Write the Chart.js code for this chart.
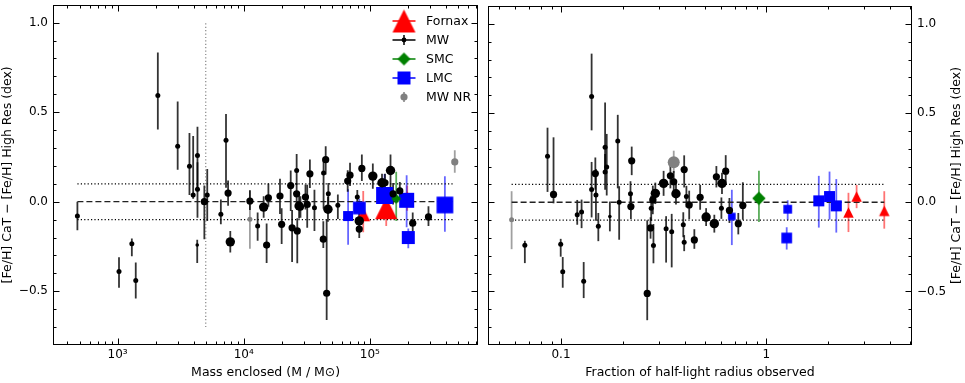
<!DOCTYPE html>
<html><head><meta charset="utf-8">
<script src="https://cdn.jsdelivr.net/npm/chart.js@4.4.1/dist/chart.umd.min.js"></script>
<style>
html,body{margin:0;padding:0;background:#fff;}
#wrap{position:relative;width:965px;height:383px;overflow:hidden;background:#fff;}
canvas{position:absolute;top:0;}
#cL{left:0;} #cR{left:482px;}
</style></head><body>
<div id="wrap"><canvas id="cL" width="483" height="383"></canvas><canvas id="cR" width="483" height="383"></canvas></div>
<script>
// ================= DATA =================
// y = [Fe/H] CaT - [Fe/H] High Res (dex); errors given as (minus, plus)
// ---- Left panel: mass enclosed (M / Msun) ----
const mwMass   = [480,1026,1297,1393,2085,2995,3715,3975,4300,4300,4875,5140,4280,6590,7240,7520,7830,11200,12900,14400,15200,15700,19400,20000,23600,24200,26300,26300,26600,27500,28200,30900,31900,33500,36400,42800,43000,44700,45500,46600,46900,55800,66800,69700,79600,82500,82500,86500,105700,125000,132000,146000,153000,173000,219000,292000];
const mwDiffL  = [-0.08,-0.39,-0.235,-0.44,0.593,0.309,0.198,0.037,0.258,0.07,0.0,0.037,-0.242,-0.07,0.343,0.048,-0.224,0.004,-0.135,-0.03,-0.242,0.022,0.032,-0.126,0.09,-0.146,0.174,0.044,-0.163,-0.024,-0.03,0.026,-0.015,0.156,-0.033,-0.209,0.161,0.235,-0.511,-0.042,0.044,-0.02,0.115,0.148,0.026,-0.107,-0.153,0.186,0.143,0.106,0.106,0.174,0.044,0.06,-0.12,-0.085];
const mwErrLoL = [0.08,0.09,0.07,0.10,0.19,0.13,0.16,0.02,0.2,0.16,0.21,0.145,0.1,0.056,0.265,0.07,0.06,0.05,0.083,0.06,0.1,0.05,0.1,0.11,0.142,0.19,0.08,0.06,0.18,0.07,0.06,0.07,0.13,0.08,0.13,0.05,0.2,0.083,0.15,0.07,0.06,0.076,0.06,0.06,0.04,0.05,0.05,0.071,0.07,0.05,0.05,0.1,0.06,0.05,0.07,0.05];
const mwErrHiL = [0.08,0.08,0.03,0.10,0.24,0.25,0.185,0.33,0.16,0.15,0.09,0.145,0.03,0.083,0.147,0.07,0.06,0.06,0.075,0.06,0.12,0.08,0.096,0.09,0.084,0.1,0.093,0.06,0.07,0.07,0.06,0.07,0.11,0.08,0.1,0.1,0.08,0.075,0.41,0.07,0.06,0.06,0.06,0.07,0.04,0.05,0.05,0.077,0.07,0.05,0.05,0.09,0.06,0.05,0.06,0.06];
const mwClassL = [1,1,1,1,1,1,1,1,1,1,2,1,0,1,1,2,3,2,1,3,2,2,2,2,2,2,1,2,2,3,2,2,2,2,1,2,1,2,2,3,1,1,2,2,1,3,2,2,3,3,2,3,2,2,2,2];

const mwnrMass   = [11200,472000];
const mwnrDiffL  = [-0.098,0.222];
const mwnrErrLoL = [0.165,0.06];
const mwnrErrHiL = [0.16,0.065];
const mwnrClassL = [1,2];

const fornaxMass   = [88700,135000,198000];
const fornaxDiffL  = [-0.07,-0.036,0.02];
const fornaxErrLoL = [0.1,0.1,0.07];
const fornaxErrHiL = [0.13,0.05,0.07];

const lmcMass   = [67300,82600,131000,196000,202000,394000];
const lmcDiffL  = [-0.08,-0.035,0.035,0.008,-0.2,-0.018];
const lmcErrLoL = [0.16,0.05,0.12,0.15,0.06,0.15];
const lmcErrHiL = [0.15,0.05,0.12,0.14,0.05,0.16];

const smcMass   = [162000];
const smcDiffL  = [0.017];
const smcErrLoL = [0.125];
const smcErrHiL = [0.15];

// ---- Right panel: fraction of half-light radius observed ----
const mwFrac   = [0.0667,0.086,0.092,0.0997,0.102,0.12,0.126,0.129,0.141,0.141,0.147,0.148,0.152,0.164,0.164,0.167,0.173,0.189,0.192,0.218,0.219,0.221,0.263,0.273,0.282,0.275,0.28,0.288,0.316,0.325,0.341,0.346,0.354,0.363,0.394,0.398,0.398,0.408,0.421,0.446,0.476,0.509,0.558,0.571,0.604,0.608,0.634,0.661,0.73,0.768];
const mwDiffR  = [-0.241,0.258,0.044,-0.235,-0.389,-0.07,-0.055,-0.442,0.593,0.072,0.161,0.041,-0.135,0.309,0.17,0.198,-0.08,0.343,0.0,0.048,-0.024,0.232,-0.511,-0.144,-0.242,-0.033,0.013,0.05,0.106,-0.148,0.148,-0.165,0.115,0.048,-0.126,0.183,-0.224,0.032,-0.015,-0.211,0.028,-0.083,-0.12,0.143,-0.033,0.106,0.174,-0.046,-0.12,-0.018];
const mwErrLoR = [0.10,0.2,0.05,0.07,0.09,0.056,0.09,0.095,0.19,0.157,0.09,0.145,0.083,0.13,0.1,0.16,0.083,0.265,0.21,0.07,0.07,0.08,0.15,0.06,0.1,0.07,0.08,0.06,0.07,0.19,0.07,0.2,0.06,0.06,0.07,0.1,0.05,0.06,0.08,0.05,0.07,0.05,0.05,0.06,0.06,0.06,0.07,0.07,0.06,0.08];
const mwErrHiR = [0.025,0.16,0.32,0.03,0.082,0.083,0.07,0.107,0.24,0.154,0.09,0.145,0.075,0.25,0.1,0.185,0.084,0.147,0.09,0.07,0.07,0.08,0.41,0.06,0.12,0.07,0.08,0.06,0.07,0.07,0.07,0.1,0.06,0.06,0.07,0.08,0.04,0.06,0.08,0.06,0.07,0.05,0.05,0.06,0.06,0.06,0.09,0.07,0.06,0.13];
const mwClassR = [1,1,2,1,1,1,1,1,1,1,2,1,1,1,1,1,0,1,1,1,2,2,2,2,1,1,2,3,3,1,2,1,2,3,1,2,1,1,2,2,2,3,3,2,1,3,2,2,2,2];

const mwnrFrac   = [0.0575,0.354];
const mwnrDiffR  = [-0.098,0.224];
const mwnrErrLoR = [0.165,0.06];
const mwnrErrHiR = [0.16,0.065];
const mwnrClassR = [1,4];

const fornaxFrac   = [2.51,2.75,3.75];
const fornaxDiffR  = [-0.057,0.032,-0.048];
const fornaxErrLoR = [0.11,0.065,0.1];
const fornaxErrHiR = [0.11,0.065,0.11];

const lmcFrac   = [0.679,1.256,1.27,1.8,2.03,2.19];
const lmcDiffR  = [-0.08,-0.2,-0.039,0.008,0.032,-0.02];
const lmcErrLoR = [0.16,0.065,0.06,0.15,0.13,0.15];
const lmcErrHiR = [0.15,0.06,0.05,0.14,0.14,0.15];

const smcFrac   = [0.92];
const smcDiffR  = [0.022];
const smcErrLoR = [0.133];
const smcErrHiR = [0.154];

// reference levels and cut
const zeroLevel = 0.0;
const scatterBand = [-0.1, 0.1];
const massCut = 5000;
const massCutSpan = [-0.7, 1.0];

const legendLabels = ['Fornax','MW','SMC','LMC','MW NR'];
const yTitle = '[Fe/H] CaT \u2212 [Fe/H] High Res (dex)';
const xTitleL = 'Mass enclosed (M / M\u2299)';
const xTitleR = 'Fraction of half-light radius observed';

// ================= STYLE =================
const FONT = 'DejaVu Sans';
const RADII = [1.8, 2.5, 3.6, 4.7, 6.0];
const RED = '#ff0000', BLUE = '#0000ff', GREEN = '#008000', GRAY = '#808080', BLACK = '#000000';
const fornaxSizeL = [14, 22, 13], fornaxSizeR = [10.5, 10.5, 10.5];
const lmcSizeL = [10, 12.7, 17, 15, 13, 16.7], lmcSizeR = [7.5, 10.7, 8.7, 11, 11, 11];
const smcSizeL = [10], smcSizeR = [13.4];

Chart.defaults.font.family = FONT;
Chart.defaults.color = '#000';

function markerImage(shape, size, color){
  const s = Math.ceil(size) + 2;
  const c = document.createElement('canvas'); c.width = s; c.height = s;
  const g = c.getContext('2d'); g.fillStyle = color;
  const m = s/2, h = size/2;
  g.beginPath();
  if (shape === 'tri'){ g.moveTo(m, m-h); g.lineTo(m+h, m+h); g.lineTo(m-h, m+h); }
  else if (shape === 'sq'){ g.rect(m-h, m-h, size, size); }
  else { g.moveTo(m, m-h); g.lineTo(m+h, m); g.lineTo(m, m+h); g.lineTo(m-h, m); }
  g.closePath(); g.fill();
  return c;
}
const pts = (xs, ys) => xs.map((x, i) => ({x, y: ys[i]}));

function circleSet(label, xs, ys, lo, hi, cls, color, errColor, order){
  return {label, data: pts(xs, ys), errLo: lo, errHi: hi, errColor, order,
    pointStyle: 'circle', pointRadius: cls.map(c => RADII[c]), backgroundColor: color,
    pointBackgroundColor: color, pointBorderWidth: 0, borderWidth: 0};
}
function shapeSet(label, xs, ys, lo, hi, shape, sizes, color, errColor, order){
  return {label, data: pts(xs, ys), errLo: lo, errHi: hi, errColor, order,
    pointStyle: sizes.map(s => markerImage(shape, s, color)), pointRadius: 4,
    backgroundColor: color, pointBorderWidth: 0, borderWidth: 0};
}
function lineSet(x0, x1, y0, y1, color, dash, width){
  return {type: 'line', data: [{x: x0, y: y0}, {x: x1, y: y1}], borderColor: color, borderDash: dash,
    borderWidth: width, pointRadius: 0, fill: false, order: 20, tension: 0};
}
function refLines(xs){
  const lo = Math.min(...xs), hi = Math.max(...xs);
  return [
    lineSet(lo, hi, zeroLevel, zeroLevel, '#222', [6, 3], 1.3),
    lineSet(lo, hi, scatterBand[0], scatterBand[0], '#000', [1.2, 2.2], 1.2),
    lineSet(lo, hi, scatterBand[1], scatterBand[1], '#000', [1.2, 2.2], 1.2)
  ];
}

// ================= PLUGINS =================
const errorBars = {
  id: 'errorBars',
  beforeDatasetsDraw(chart){
    const {ctx, chartArea: a, scales: {x, y}} = chart;
    ctx.save();
    ctx.beginPath(); ctx.rect(a.left, a.top, a.right - a.left, a.bottom - a.top); ctx.clip();
    const sets = chart.data.datasets.map((d, i) => [d, i]).filter(([d]) => d.errLo)
      .sort((p, q) => q[0].order - p[0].order);
    sets.forEach(([ds]) => {
      ctx.strokeStyle = ds.errColor; ctx.lineWidth = 1.8;
      ds.data.forEach((p, i) => {
        const px = x.getPixelForValue(p.x);
        ctx.beginPath();
        ctx.moveTo(px, y.getPixelForValue(p.y - ds.errLo[i]));
        ctx.lineTo(px, y.getPixelForValue(p.y + ds.errHi[i]));
        ctx.stroke();
      });
    });
    ctx.restore();
  }
};
const frame = {
  id: 'frame',
  afterDraw(chart, args, opts){
    const {ctx, chartArea: a, scales: {x, y}} = chart;
    ctx.save();
    ctx.strokeStyle = '#000'; ctx.lineWidth = 1;
    const L = Math.round(a.left) + 0.5, R = Math.round(a.right) - 0.5, T = Math.round(a.top) + 0.5, B = Math.round(a.bottom) - 0.5;
    ctx.strokeRect(L, T, R - L, B - T);
    ctx.beginPath();
    const e0 = Math.floor(Math.log10(x.min)), e1 = Math.ceil(Math.log10(x.max));
    for (let e = e0; e <= e1; e++) for (let d = 1; d <= 9; d++){
      const v = d * Math.pow(10, e);
      if (v <= x.min || v >= x.max) continue;
      const px = Math.round(x.getPixelForValue(v)) + 0.5;
      const len = d === 1 ? 6 : 3;
      ctx.moveTo(px, B); ctx.lineTo(px, B - len);
      ctx.moveTo(px, T); ctx.lineTo(px, T + len);
    }
    for (let i = Math.ceil(y.min * 10); i <= Math.floor(y.max * 10); i++){
      const v = i / 10;
      if (v <= y.min + 1e-9 || v >= y.max - 1e-9) continue;
      const py = Math.round(y.getPixelForValue(v)) + 0.5;
      const len = i % 5 === 0 ? 6 : 3;
      ctx.moveTo(L, py); ctx.lineTo(L + len, py);
      ctx.moveTo(R, py); ctx.lineTo(R - len, py);
    }
    ctx.stroke();
    // rotated y title
    ctx.fillStyle = '#000';
    ctx.font = '12.5px "' + FONT + '"';
    ctx.textAlign = 'center'; ctx.textBaseline = 'middle';
    ctx.translate(opts.titleX, (a.top + a.bottom) / 2);
    ctx.rotate(-Math.PI / 2);
    ctx.fillText(yTitle, 0, 0);
    ctx.restore();
  }
};
const legendPlugin = {
  id: 'legendBox',
  afterDraw(chart){
    const ctx = chart.ctx;
    const mx = 404, tx = 426, y0 = 21, dy = 19;
    const colors = [RED, BLACK, GREEN, BLUE, GRAY];
    ctx.save();
    legendLabels.forEach((lab, i) => {
      const yy = y0 + i * dy, c = colors[i];
      ctx.strokeStyle = c; ctx.fillStyle = c; ctx.lineWidth = 1.5;
      if (i < 4){ ctx.beginPath(); ctx.moveTo(mx - 11.5, yy); ctx.lineTo(mx + 11.5, yy); ctx.stroke(); }
      if (i === 1 || i === 4){ ctx.beginPath(); ctx.moveTo(mx, yy - 5); ctx.lineTo(mx, yy + 5); ctx.stroke(); }
      if (i === 0) ctx.drawImage(markerImage('tri', 23, RED), mx - 12.5, yy - 12.5);
      if (i === 1){ ctx.beginPath(); ctx.arc(mx, yy, 2.4, 0, 2 * Math.PI); ctx.fill(); }
      if (i === 2) ctx.drawImage(markerImage('dia', 13, GREEN), mx - 7.5, yy - 7.5);
      if (i === 3) ctx.drawImage(markerImage('sq', 13, BLUE), mx - 7.5, yy - 7.5);
      if (i === 4){ ctx.beginPath(); ctx.arc(mx, yy, 3.6, 0, 2 * Math.PI); ctx.fill(); }
      ctx.fillStyle = '#000'; ctx.font = '12.5px "' + FONT + '"';
      ctx.textAlign = 'left'; ctx.textBaseline = 'middle';
      ctx.fillText(lab, tx, yy + 0.5);
    });
    ctx.restore();
  }
};

// ================= AXES =================
const SUP = {'-':'\u207b','0':'\u2070','1':'\u00b9','2':'\u00b2','3':'\u00b3','4':'\u2074','5':'\u2075','6':'\u2076','7':'\u2077','8':'\u2078','9':'\u2079'};
const isDecade = v => { const l = Math.log10(v); return Math.abs(l - Math.round(l)) < 1e-6; };
const yLabel = v => { const r = Math.round(v * 10); return r % 5 === 0 ? (r / 10).toFixed(1).replace('-', '\u2212') : ''; };
function yAxis(position){
  return {type: 'linear', min: -0.8, max: 1.1, position,
    grid: {display: false, drawTicks: false}, border: {display: false},
    ticks: {stepSize: 0.1, maxTicksLimit: 100, autoSkip: false, padding: 5, font: {size: 12}, color: '#000', callback: yLabel},
    afterFit(s){ s.width = 53; s.paddingTop = 0; s.paddingBottom = 0; }};
}
function xAxis(min, max, labelFn, title){
  return {type: 'logarithmic', min, max, position: 'bottom',
    grid: {display: false, drawTicks: false}, border: {display: false},
    ticks: {autoSkip: false, maxRotation: 0, padding: 3, font: {size: 12}, color: '#000', callback: labelFn},
    title: {display: true, text: title, color: '#000', font: {size: 12.5}, padding: {top: 0, bottom: 3}},
    afterFit(s){ s.height = 38; s.paddingLeft = 0; s.paddingRight = 0; }};
}
const massLabel = v => isDecade(v) ? '10' + String(Math.round(Math.log10(v))).split('').map(ch => SUP[ch]).join('') : '';
const fracLabel = v => isDecade(v) ? String(Math.pow(10, Math.round(Math.log10(v)))) : '';

// ================= CHARTS =================
const common = {responsive: false, animation: false, events: [], devicePixelRatio: 1,
  plugins: {legend: {display: false}, tooltip: {enabled: false}}};

new Chart(document.getElementById('cL'), {
  type: 'scatter',
  data: {datasets: [
    circleSet('MW', mwMass, mwDiffL, mwErrLoL, mwErrHiL, mwClassL, BLACK, 'rgba(0,0,0,0.8)', 1),
    circleSet('MW NR', mwnrMass, mwnrDiffL, mwnrErrLoL, mwnrErrHiL, mwnrClassL, GRAY, 'rgba(128,128,128,0.75)', 2),
    shapeSet('SMC', smcMass, smcDiffL, smcErrLoL, smcErrHiL, 'dia', smcSizeL, GREEN, 'rgba(0,128,0,0.65)', 3),
    shapeSet('LMC', lmcMass, lmcDiffL, lmcErrLoL, lmcErrHiL, 'sq', lmcSizeL, BLUE, 'rgba(0,0,255,0.6)', 4),
    shapeSet('Fornax', fornaxMass, fornaxDiffL, fornaxErrLoL, fornaxErrHiL, 'tri', fornaxSizeL, RED, 'rgba(255,0,0,0.55)', 5),
    ...refLines([...mwMass, ...mwnrMass, ...smcMass, ...lmcMass, ...fornaxMass]),
    lineSet(massCut, massCut, massCutSpan[0], massCutSpan[1], '#888', [1.2, 2.2], 1.2)
  ]},
  options: Object.assign({}, common, {
    layout: {padding: {top: 3, left: 0, right: 0, bottom: 0}},
    scales: {x: xAxis(307.4, 725300, massLabel, xTitleL), y: yAxis('left')},
    plugins: Object.assign({}, common.plugins, {frame: {titleX: 8}})
  }),
  plugins: [errorBars, frame, legendPlugin]
});

new Chart(document.getElementById('cR'), {
  type: 'scatter',
  data: {datasets: [
    circleSet('MW', mwFrac, mwDiffR, mwErrLoR, mwErrHiR, mwClassR, BLACK, 'rgba(0,0,0,0.8)', 1),
    circleSet('MW NR', mwnrFrac, mwnrDiffR, mwnrErrLoR, mwnrErrHiR, mwnrClassR, GRAY, 'rgba(128,128,128,0.75)', 2),
    shapeSet('SMC', smcFrac, smcDiffR, smcErrLoR, smcErrHiR, 'dia', smcSizeR, GREEN, 'rgba(0,128,0,0.65)', 3),
    shapeSet('LMC', lmcFrac, lmcDiffR, lmcErrLoR, lmcErrHiR, 'sq', lmcSizeR, BLUE, 'rgba(0,0,255,0.6)', 4),
    shapeSet('Fornax', fornaxFrac, fornaxDiffR, fornaxErrLoR, fornaxErrHiR, 'tri', fornaxSizeR, RED, 'rgba(255,0,0,0.55)', 5),
    ...refLines([...mwFrac, ...mwnrFrac, ...smcFrac, ...lmcFrac, ...fornaxFrac])
  ]},
  options: Object.assign({}, common, {
    layout: {padding: {top: 3, left: 0, right: 0, bottom: 0}},
    scales: {x: xAxis(0.04413, 5.117, fracLabel, xTitleR), y: yAxis('right')},
    plugins: Object.assign({}, common.plugins, {frame: {titleX: 475}})
  }),
  plugins: [errorBars, frame]
});
</script>
</body></html>
